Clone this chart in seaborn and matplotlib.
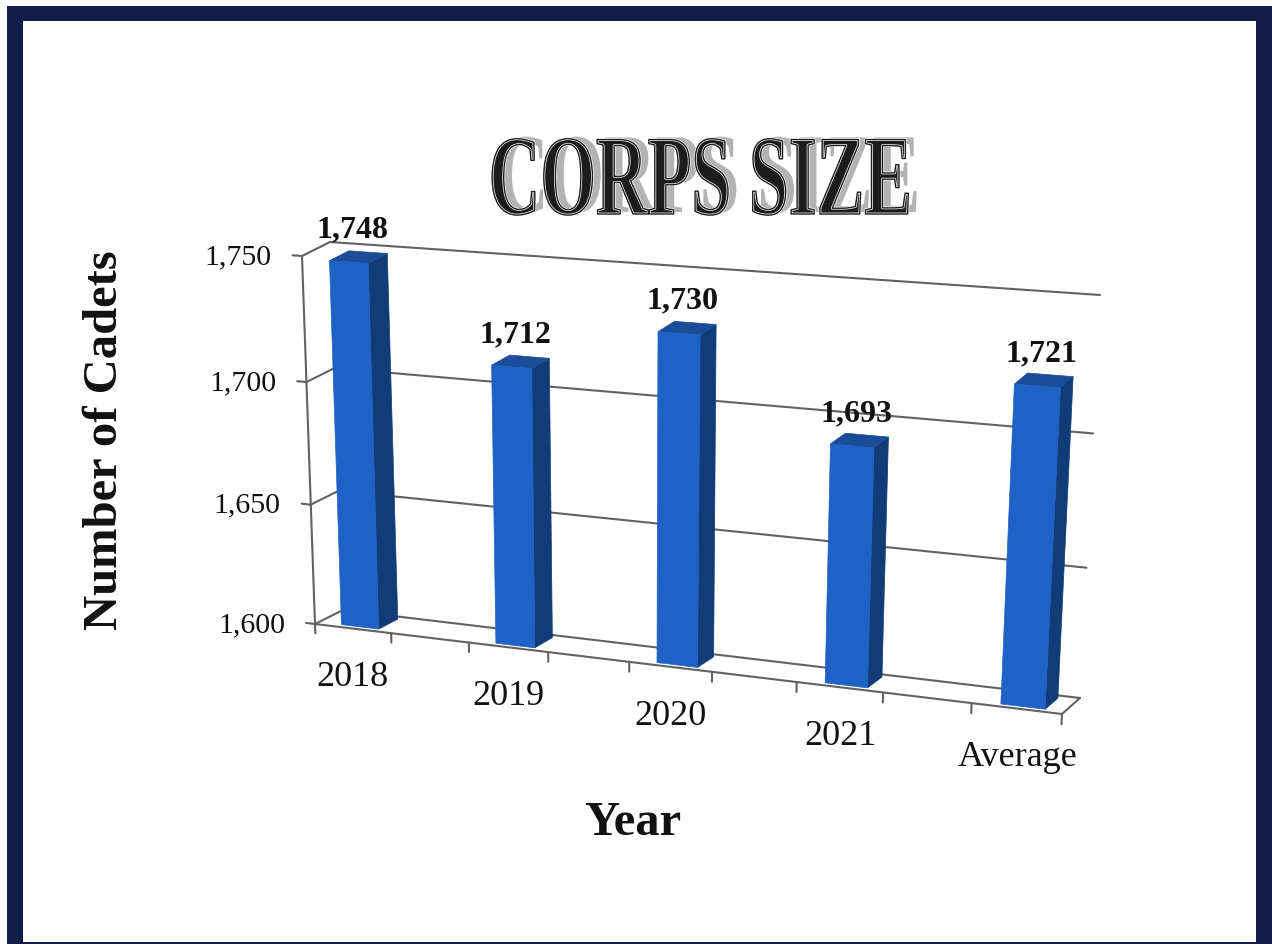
import numpy as np
import matplotlib
matplotlib.use("Agg")
import matplotlib.pyplot as plt
import matplotlib.transforms as mtransforms
import matplotlib.patheffects as pe
import matplotlib.colors as mcolors
from matplotlib.patches import Polygon, Rectangle
from matplotlib.lines import Line2D
import seaborn as sns

# ---- data -------------------------------------------------------------
categories = ["2018", "2019", "2020", "2021", "Average"]
cadets = [1748, 1712, 1730, 1693, 1721]
value_labels = ["1,748", "1,712", "1,730", "1,693", "1,721"]
y_ticks = [1600, 1650, 1700, 1750]
y_tick_labels = ["1,600", "1,650", "1,700", "1,750"]

# ---- layout -----------------------------------------------------------
W_PX, H_PX = 1272, 945
X_RANGE = (-0.27, 4.23)
Y_RANGE = (1600, 1750)
# where the corners of the front (z=0) and back (z=1) planes of the
# chart box land on the canvas, in pixels from the top-left corner
FRONT_QUAD = [(315, 625), (1062, 715), (1082, 312), (302, 257)]
BACK_QUAD = [(343, 611), (1080, 699), (1100, 296), (330, 243)]
BAR_DEPTH = (0.15, 0.85)
BAR_WIDTH = 0.245

FRONT_C = "#1d62c4"
SIDE_C = "#123c78"
TOP_C = "#1a4c98"
GRID_C = "#626262"
FRAME_C = "#101d4b"

sns.set_style("white")
plt.rcParams["font.family"] = ["Liberation Serif", "DejaVu Serif"]


def square_to_quad(quad):
    """Homography taking the unit square onto a quadrilateral."""
    src = [(0, 0), (1, 0), (1, 1), (0, 1)]
    A, b = [], []
    for (u, v), (X, Y) in zip(src, quad):
        A.append([u, v, 1, 0, 0, 0, -u * X, -v * X])
        b.append(X)
        A.append([0, 0, 0, u, v, 1, -u * Y, -v * Y])
        b.append(Y)
    h = np.linalg.solve(np.array(A, float), np.array(b, float))
    return np.append(h, 1.0).reshape(3, 3)


H_FRONT = square_to_quad(FRONT_QUAD)
H_BACK = square_to_quad(BACK_QUAD)


def apply_h(H, u, v):
    p = H @ np.vstack([u, v, np.ones_like(u)])
    return p[0] / p[2], p[1] / p[2]


class BoxProjection(mtransforms.Transform):
    """Projects one plane of the 3-D chart box onto the figure.

    fixed='z': inputs are (x, y) at depth `value`
    fixed='x': inputs are (z, y) at category position `value`
    fixed='y': inputs are (x, z) at height `value`
    """
    input_dims = 2
    output_dims = 2
    has_inverse = False

    def __init__(self, fixed, value):
        super().__init__()
        self.fixed = fixed
        self.value = value

    def transform_non_affine(self, values):
        values = np.asarray(values, dtype=float).reshape(-1, 2)
        a, b = values[:, 0], values[:, 1]
        const = np.full_like(a, self.value)
        if self.fixed == "z":
            x, y, z = a, b, const
        elif self.fixed == "x":
            x, y, z = const, b, a
        else:
            x, y, z = a, const, b
        u = (x - X_RANGE[0]) / (X_RANGE[1] - X_RANGE[0])
        v = (y - Y_RANGE[0]) / (Y_RANGE[1] - Y_RANGE[0])
        fx, fy = apply_h(H_FRONT, u, v)
        bx, by = apply_h(H_BACK, u, v)
        px = (1 - z) * fx + z * bx
        py = (1 - z) * fy + z * by
        return np.column_stack([px / W_PX, 1 - py / H_PX])


class Tall(pe.AbstractPathEffect):
    """Draws text taller than the font's natural proportions, either
    filled or as an outline stroke."""

    def __init__(self, factor, offset=(0, 0), color=None, stroke=None):
        super().__init__(offset)
        self._factor = factor
        self._color = color
        self._stroke = stroke

    def draw_path(self, renderer, gc, tpath, affine, rgbFace=None):
        stretch = mtransforms.Affine2D().scale(1, self._factor)
        gc0 = renderer.new_gc()
        gc0.copy_properties(gc)
        face = rgbFace
        if self._color is not None:
            face = mcolors.to_rgba(self._color)
            gc0.set_foreground(self._color)
        if self._stroke is not None:
            gc0.set_linewidth(self._stroke)
            gc0.set_joinstyle("round")
            face = None
        renderer.draw_path(gc0, tpath,
                           stretch + affine + self._offset_transform(renderer),
                           face)
        gc0.restore()


fig = plt.figure(figsize=(W_PX / 100, H_PX / 100), dpi=100)
fig.patch.set_facecolor("white")


def fig_xy(px, py):
    return px / W_PX, 1 - py / H_PX


# page frame
fig.add_artist(Rectangle(fig_xy(7, 945), (1272 - 7) / W_PX, (945 - 7) / H_PX,
                         transform=fig.transFigure, fc=FRAME_C, ec="none",
                         zorder=0))
fig.add_artist(Rectangle(fig_xy(23, 943), (1256 - 23) / W_PX, (943 - 22) / H_PX,
                         transform=fig.transFigure, fc="white", ec="none",
                         zorder=0))

ax = fig.add_axes([0, 0, 1, 1])
ax.set_axis_off()


def proj(fixed, value):
    return BoxProjection(fixed, value) + fig.transFigure


def box_line(xs, ys, trans, **kw):
    style = dict(color=GRID_C, lw=1.5, zorder=2, clip_on=False,
                 solid_capstyle="round")
    style.update(kw)
    ax.add_line(Line2D(xs, ys, transform=trans, **style))


x0, x1 = X_RANGE
base = Y_RANGE[0]

# back wall and side wall gridlines
for yv in y_ticks:
    box_line([x0, x1], [yv, yv], proj("z", 1.0))
    box_line([0.0, 1.0], [yv, yv], proj("x", x0))
# floor
box_line([x0, x1], [base, base], proj("z", 0.0))
box_line([0.0, 1.0], [base, base], proj("x", x1))
# value axis with its ticks
box_line([x0, x0], [Y_RANGE[0], Y_RANGE[1]], proj("z", 0.0))
for yv, lab in zip(y_ticks, y_tick_labels):
    box_line([x0 - 0.06, x0], [yv, yv], proj("z", 0.0))
    ax.text(x0, yv, lab, ha="right", va="center", fontsize=21.5,
            color="#111111",
            transform=proj("z", 0.0) + mtransforms.ScaledTranslation(
                -0.30, 0, fig.dpi_scale_trans))
# category axis ticks
for xt in np.arange(x0, x1 + 0.01, 0.5):
    box_line([xt, xt], [base, base - 4], proj("z", 0.0))

# bars
sns.barplot(x=categories, y=cadets, ax=ax, width=BAR_WIDTH, color=FRONT_C,
            saturation=1, linewidth=0)
ax.set_axis_off()

zf, zb = BAR_DEPTH
for bar, lab in zip(ax.patches, value_labels):
    top = bar.get_height()
    bar.set_y(base)
    bar.set_height(top - base)
    xl = bar.get_x()
    xr = xl + bar.get_width()
    bar.set_transform(proj("z", zf))
    bar.set_facecolor(FRONT_C)
    bar.set_edgecolor(FRONT_C)
    bar.set_linewidth(0.5)
    bar.set_zorder(4)
    bar.set_clip_on(False)
    side = Polygon([(zf, base), (zb, base), (zb, top), (zf, top)],
                   closed=True, transform=proj("x", xr), fc=SIDE_C,
                   ec=SIDE_C, lw=0.5, zorder=3, clip_on=False)
    lid = Polygon([(xl, zf), (xr, zf), (xr, zb), (xl, zb)],
                  closed=True, transform=proj("y", top), fc=TOP_C,
                  ec=TOP_C, lw=0.5, zorder=3, clip_on=False)
    ax.add_patch(side)
    ax.add_patch(lid)
    ax.text(0.5 * (xl + xr), top, lab, ha="center", va="center",
            fontsize=23, fontweight="bold", color="#111111",
            transform=proj("z", zf) + mtransforms.ScaledTranslation(
                0.04, 0.33, fig.dpi_scale_trans))

# category labels
for i, cat in enumerate(categories):
    ax.text(i, base, cat, ha="center", va="center", fontsize=26,
            color="#111111",
            transform=proj("z", 0.0) + mtransforms.ScaledTranslation(
                -0.03, -0.48, fig.dpi_scale_trans))

# axis titles
fig.text(*fig_xy(105, 440), "Number of Cadets", rotation=90, ha="center",
         va="center", fontsize=35, fontweight="bold", color="#111111")
fig.text(*fig_xy(633, 823), "Year", ha="center", va="center", fontsize=35,
         fontweight="bold", color="#111111")

# title: tall, narrow engraved capitals with a grey drop shadow
STRETCH = 1.59
fig.text(*fig_xy(700, 215), "CORPS SIZE", ha="center", va="baseline",
         fontsize=51.5, fontweight="bold", color="#1c1c1c",
         path_effects=[Tall(STRETCH, offset=(6, 1.5), color="#b3b3b3"),
                       Tall(STRETCH),
                       Tall(STRETCH, color="white", stroke=2.0),
                       Tall(STRETCH, color="#1c1c1c", stroke=1.0)])

fig.savefig("out.png", dpi=100)
